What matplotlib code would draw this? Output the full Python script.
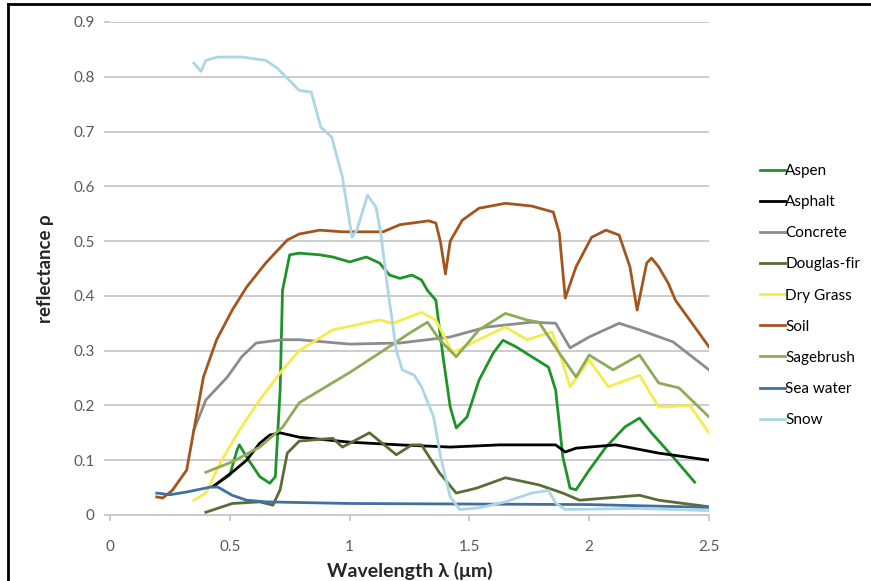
import matplotlib
matplotlib.use('Agg')
import matplotlib.pyplot as plt
from matplotlib.lines import Line2D

plt.rcParams['font.family'] = ['Lato', 'DejaVu Sans']

# Spectral reflectance curves (wavelength in um)
aspen_x = [0.43, 0.5, 0.53, 0.54, 0.57, 0.625, 0.667, 0.69, 0.71, 0.72, 0.75, 0.79, 0.875, 0.93,
           1.0, 1.07, 1.125, 1.167, 1.21, 1.26, 1.30, 1.325, 1.36, 1.39, 1.42, 1.445, 1.49, 1.54,
           1.60, 1.64, 1.695, 1.76, 1.83, 1.86, 1.89, 1.92, 1.945, 2.0, 2.07, 2.15, 2.21, 2.26,
           2.35, 2.44]
aspen_y = [0.052, 0.073, 0.118, 0.128, 0.106, 0.07, 0.058, 0.07, 0.228, 0.41, 0.475, 0.478, 0.475,
           0.471, 0.462, 0.471, 0.46, 0.438, 0.432, 0.438, 0.429, 0.41, 0.392, 0.289, 0.197, 0.159,
           0.179, 0.246, 0.296, 0.319, 0.307, 0.289, 0.27, 0.228, 0.106, 0.049, 0.046, 0.082,
           0.124, 0.161, 0.177, 0.150, 0.106, 0.06]

asphalt_x = [0.43, 0.51, 0.57, 0.625, 0.667, 0.71, 0.79, 1.0, 1.21, 1.42, 1.625, 1.86, 1.90,
             1.945, 2.11, 2.29, 2.5]
asphalt_y = [0.052, 0.078, 0.10, 0.131, 0.146, 0.15, 0.142, 0.133, 0.128, 0.124, 0.128, 0.128,
             0.115, 0.122, 0.128, 0.113, 0.10]

concrete_x = [0.35, 0.40, 0.49, 0.55, 0.61, 0.72, 0.79, 1.0, 1.21, 1.42, 1.57, 1.76, 1.86, 1.92,
              2.0, 2.125, 2.21, 2.35, 2.5]
concrete_y = [0.155, 0.21, 0.252, 0.289, 0.314, 0.32, 0.32, 0.312, 0.314, 0.325, 0.343, 0.352,
              0.35, 0.305, 0.325, 0.35, 0.338, 0.316, 0.265]

douglas_x = [0.40, 0.51, 0.625, 0.68, 0.71, 0.74, 0.79, 0.93, 0.97, 1.083, 1.195, 1.26, 1.30,
             1.375, 1.445, 1.53, 1.65, 1.79, 1.89, 1.96, 2.21, 2.29, 2.5]
douglas_y = [0.005, 0.021, 0.024, 0.018, 0.046, 0.113, 0.135, 0.14, 0.124, 0.15, 0.11, 0.128,
             0.128, 0.077, 0.04, 0.049, 0.068, 0.055, 0.04, 0.027, 0.036, 0.027, 0.015]

grass_x = [0.35, 0.40, 0.46, 0.54, 0.625, 0.72, 0.79, 0.93, 1.125, 1.18, 1.30, 1.36, 1.43, 1.51,
           1.65, 1.74, 1.845, 1.89, 1.92, 2.0, 2.08, 2.21, 2.29, 2.42, 2.5]
grass_y = [0.027, 0.04, 0.095, 0.155, 0.21, 0.265, 0.30, 0.338, 0.356, 0.35, 0.37, 0.356, 0.296,
           0.314, 0.343, 0.32, 0.334, 0.277, 0.234, 0.283, 0.234, 0.255, 0.197, 0.20, 0.15]

soil_x = [0.195, 0.22, 0.26, 0.32, 0.35, 0.39, 0.445, 0.51, 0.57, 0.65, 0.74, 0.79, 0.875, 0.97,
          1.14, 1.21, 1.33, 1.36, 1.38, 1.40, 1.42, 1.47, 1.54, 1.65, 1.76, 1.85, 1.875, 1.90,
          1.945, 2.01, 2.07, 2.125, 2.17, 2.20, 2.24, 2.26, 2.29, 2.33, 2.36, 2.5]
soil_y = [0.033, 0.031, 0.045, 0.082, 0.155, 0.252, 0.32, 0.374, 0.416, 0.46, 0.502, 0.513, 0.52,
          0.517, 0.517, 0.53, 0.537, 0.533, 0.497, 0.44, 0.50, 0.538, 0.56, 0.569, 0.564, 0.553,
          0.515, 0.396, 0.453, 0.507, 0.52, 0.511, 0.453, 0.374, 0.46, 0.469, 0.453, 0.423,
          0.392, 0.307]

sage_x = [0.40, 0.51, 0.625, 0.72, 0.79, 1.0, 1.14, 1.25, 1.325, 1.375, 1.445, 1.54, 1.65, 1.74,
          1.79, 1.875, 1.945, 2.0, 2.10, 2.21, 2.29, 2.375, 2.5]
sage_y = [0.078, 0.097, 0.124, 0.16, 0.205, 0.26, 0.30, 0.332, 0.352, 0.32, 0.289, 0.338, 0.368,
          0.356, 0.352, 0.296, 0.252, 0.292, 0.265, 0.292, 0.241, 0.232, 0.179]

sea_x = [0.195, 0.25, 0.32, 0.42, 0.45, 0.51, 0.57, 0.65, 1.0, 1.5, 2.0, 2.5]
sea_y = [0.040, 0.037, 0.042, 0.051, 0.051, 0.036, 0.027, 0.024, 0.021, 0.02, 0.019, 0.014]

snow_x = [0.35, 0.38, 0.40, 0.45, 0.55, 0.65, 0.70, 0.79, 0.84, 0.88, 0.925, 0.97, 1.01, 1.03,
          1.075, 1.11, 1.13, 1.16, 1.195, 1.22, 1.27, 1.30, 1.35, 1.38, 1.42, 1.46, 1.54, 1.65,
          1.76, 1.83, 1.86, 1.90, 2.2, 2.5]
snow_y = [0.825, 0.81, 0.83, 0.836, 0.836, 0.83, 0.815, 0.775, 0.772, 0.708, 0.69, 0.617, 0.507,
          0.52, 0.584, 0.562, 0.515, 0.41, 0.30, 0.265, 0.255, 0.234, 0.18, 0.106, 0.033, 0.01,
          0.013, 0.024, 0.04, 0.045, 0.022, 0.01, 0.012, 0.008]

series = [
    ('Aspen', aspen_x, aspen_y, '#1e9428'),
    ('Asphalt', asphalt_x, asphalt_y, '#000000'),
    ('Concrete', concrete_x, concrete_y, '#8c8c8c'),
    ('Douglas-fir', douglas_x, douglas_y, '#5a6d36'),
    ('Dry Grass', grass_x, grass_y, '#f4ec4c'),
    ('Soil', soil_x, soil_y, '#a2561e'),
    ('Sagebrush', sage_x, sage_y, '#8eab56'),
    ('Sea water', sea_x, sea_y, '#41709f'),
    ('Snow', snow_x, snow_y, '#acd6e6'),
]

fig = plt.figure(figsize=(8.71, 5.81), dpi=100)
ax = fig.add_axes([110 / 871, 1 - 515 / 581, 599 / 871, 493 / 581])

for name, xs, ys, col in series:
    ax.plot(xs, ys, color=col, lw=2.0, label=name)

ax.set_xlim(0, 2.5)
ax.set_ylim(0, 0.9)
ax.set_xticks([0, 0.5, 1, 1.5, 2, 2.5])
ax.set_xticklabels(['0', '0.5', '1', '1.5', '2', '2.5'])
ax.set_yticks([0, 0.1, 0.2, 0.3, 0.4, 0.5, 0.6, 0.7, 0.8, 0.9])
ax.set_yticklabels(['0', '0.1', '0.2', '0.3', '0.4', '0.5', '0.6', '0.7', '0.8', '0.9'])
ax.yaxis.grid(True, color='#c8c8c8', lw=1.3)
ax.set_axisbelow(True)
for s in ['top', 'right', 'left']:
    ax.spines[s].set_visible(False)
ax.spines['bottom'].set_color('#c8c8c8')
ax.spines['bottom'].set_linewidth(1.3)
ax.tick_params(axis='y', length=4, color='#c8c8c8', width=1.3, labelsize=11,
               labelcolor='#595959', pad=7)
ax.tick_params(axis='x', length=4, color='#c8c8c8', width=1.3, labelsize=11,
               labelcolor='#595959', pad=14)

ax.set_xlabel('Wavelength λ (μm)', fontsize=14, fontweight='bold', color='#262626',
              labelpad=6)
ax.set_ylabel('reflectance ρ', fontsize=13.5, fontweight='bold', color='#262626', labelpad=14)

ax.legend(loc='upper left', bbox_to_anchor=(754 / 871, 1 - 158 / 581),
          bbox_transform=fig.transFigure, frameon=False, fontsize=11,
          handlelength=1.6, handletextpad=0.05, labelspacing=1.12, borderaxespad=0)

# figure frame (top and left edges visible in the reference)
fig.add_artist(Line2D([8 / 871, 8 / 871], [0, 1 - 4 / 581], transform=fig.transFigure,
                      color='black', lw=2))
fig.add_artist(Line2D([8 / 871, 1], [1 - 4 / 581, 1 - 4 / 581], transform=fig.transFigure,
                      color='black', lw=2))

fig.savefig('out.png', dpi=100)
